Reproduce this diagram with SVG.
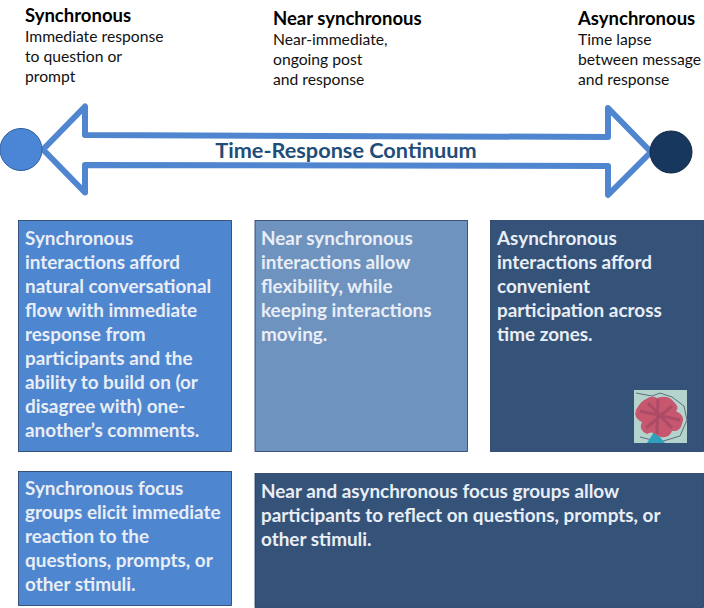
<svg xmlns="http://www.w3.org/2000/svg" width="704" height="608" viewBox="0 0 704 608">
<style>
text{font-family:Lato,"Open Sans",sans-serif}
.h{font-size:18.500px;font-weight:700;fill:#000}
.s{font-size:15.700px;fill:#111}
.b{font-size:18.900px;font-weight:700;fill:#e9eef6}
.edge{stroke:#1f3864;stroke-width:.8}
</style>
<rect width="704" height="608" fill="#fff"/>
<g id="connectors">
<path d="M43 149.500L85 106.500V135L608 137V108L651 152L608 195V166L85 165V192.500Z" fill="#fff" stroke="#4f86cf" stroke-width="6" stroke-linejoin="round"/>
</g>
<g id="continuum-label"><text x="346" y="158" text-anchor="middle" fill="#1f4e79" style="font-size:21.700px;font-weight:700">Time-Response Continuum</text></g>
<g id="start-dot"><circle cx="21" cy="149.500" r="21" fill="#4a85d6" stroke="#2f5f9e"/></g>
<g id="end-dot"><circle cx="671" cy="152" r="21" fill="#17375e" stroke="#0f2747"/></g>
<g id="head-synchronous">
<text class="h" x="25" y="22">Synchronous</text>
<text class="s" x="25" y="42">Immediate response</text>
<text class="s" x="25" y="62">to question or</text>
<text class="s" x="25" y="82">prompt</text>
</g>
<g id="head-near">
<text class="h" x="273" y="25">Near synchronous</text>
<text class="s" x="273" y="45">Near-immediate,</text>
<text class="s" x="273" y="65">ongoing post</text>
<text class="s" x="273" y="85">and response</text>
</g>
<g id="head-async">
<text class="h" x="578" y="25">Asynchronous</text>
<text class="s" x="578" y="45">Time lapse</text>
<text class="s" x="578" y="65">between message</text>
<text class="s" x="578" y="85">and response</text>
</g>
<g id="box-sync">
<rect class="edge" x="18.500" y="220.500" width="213" height="231" fill="#4f86d0"/>
<text class="b" x="25" y="245">Synchronous</text>
<text class="b" x="25" y="269">interactions afford</text>
<text class="b" x="25" y="293">natural conversational</text>
<text class="b" x="25" y="317">flow with immediate</text>
<text class="b" x="25" y="341">response from</text>
<text class="b" x="25" y="365">participants and the</text>
<text class="b" x="25" y="389">ability to build on (or</text>
<text class="b" x="25" y="413">disagree with) one-</text>
<text class="b" x="25" y="437">another’s comments.</text>
</g>
<g id="box-near">
<rect class="edge" x="255" y="220.500" width="212.500" height="231" fill="#6f93bf"/>
<text class="b" x="261" y="245">Near synchronous</text>
<text class="b" x="261" y="269">interactions allow</text>
<text class="b" x="261" y="293">flexibility, while</text>
<text class="b" x="261" y="317">keeping interactions</text>
<text class="b" x="261" y="341">moving.</text>
</g>
<g id="box-async">
<rect class="edge" x="490.500" y="220.500" width="213" height="231" fill="#355379"/>
<text class="b" x="497" y="245">Asynchronous</text>
<text class="b" x="497" y="269">interactions afford</text>
<text class="b" x="497" y="293">convenient</text>
<text class="b" x="497" y="317">participation across</text>
<text class="b" x="497" y="341">time zones.</text>
<g id="flower">
<rect x="634" y="390" width="53" height="53" fill="#b4d3cc"/>
<path d="M636 393L652 396L660 393L672 397L684 406L687 420L680 436L660 442L640 437" fill="none" stroke="#5d6d80" stroke-width="1"/>
<path d="M647 443L654 432L660 437L665 443Z" fill="#2fa0bd"/>
<path d="M646 399Q652 395 657 398Q668 394 674 402Q680 408 676 411Q686 416 682 424Q680 432 672 431Q668 440 658 436Q652 430 647 434Q638 430 642 422Q633 418 636 410Q640 402 646 399Z" fill="#c7566f"/>
<path d="M658 399L657 434M640 411L680 420M648 403L672 428M672 406L646 428" stroke="#9a4560" stroke-width="3" fill="none" opacity=".6"/>
</g>
</g>
<g id="box-sync-focus">
<rect class="edge" x="18.500" y="471.500" width="213" height="134" fill="#4f86d0"/>
<text class="b" x="25" y="495">Synchronous focus</text>
<text class="b" x="25" y="519">groups elicit immediate</text>
<text class="b" x="25" y="543">reaction to the</text>
<text class="b" x="25" y="567">questions, prompts, or</text>
<text class="b" x="25" y="591">other stimuli.</text>
</g>
<g id="box-near-async-focus">
<rect class="edge" x="255" y="473.500" width="448.500" height="134" fill="#355379"/>
<text class="b" x="261" y="498">Near and asynchronous focus groups allow</text>
<text class="b" x="261" y="522">participants to reflect on questions, prompts, or</text>
<text class="b" x="261" y="546">other stimuli.</text>
</g>
</svg>
